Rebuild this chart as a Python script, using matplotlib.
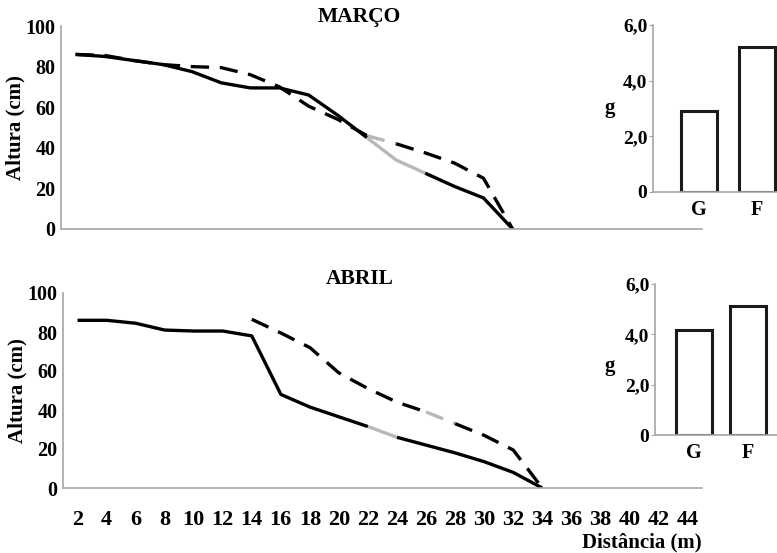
import numpy as np
import matplotlib
matplotlib.use("Agg")
import matplotlib.pyplot as plt

# ---------------- data ----------------
distancias = [2, 4, 6, 8, 10, 12, 14, 16, 18, 20, 22, 24, 26, 28, 30, 32, 34, 36, 38, 40, 42, 44]

# MARÇO (values per distance)
marco_solida = [86, 85, 83, 81, 77.5, 72, 69.5, 69.5, 66, 56, 45, 34, 27.5, 21, 15.3, 0]
marco_tracejada = [86, 85.5, 83, 81, 80, 79.5, 76, 70, 60.5, 54, 46, 42, 37.5, 32.5, 25, 0]
# ABRIL
abril_solida = [86, 86, 84.5, 81, 80.5, 80.5, 78, 48, 41.5, 36.5, 31.5, 26, 22, 18, 13.5, 8, 0]
abril_tracejada_inicio = 14
abril_tracejada = [86.5, 79.5, 72, 59, 51, 44, 39, 33, 27, 19.5, 0]

# light-grey stretches of the lines (start distance, end distance)
marco_sol_cinza = (22, 26)
marco_tra_cinza = (22, 24)
abril_sol_cinza = (22, 24)
abril_tra_cinza = (26, 28)

bar_cats = ["G", "F"]
marco_barras = [2.9, 5.2]
abril_barras = [4.17, 5.12]

y_ticks_linha = [0, 20, 40, 60, 80, 100]
y_ticks_barra = [0, 2, 4, 6]
y_ticklabels_barra = ["0", "2,0", "4,0", "6,0"]

# ---------------- style ----------------
plt.rcParams['font.family'] = ['Liberation Serif', 'DejaVu Serif']
plt.rcParams['font.weight'] = 'bold'
SPINE = '#a6a6a6'
GREY = '#b8b8b8'
LW = 2.4
DASH = (0, (5.5, 3.2))

W, H = 777, 553
fig = plt.figure(figsize=(W / 100, H / 100), dpi=100)


def ax_px(left, right, top, bottom):
    return fig.add_axes([left / W, 1 - bottom / H, (right - left) / W, (bottom - top) / H])


def plot_series(ax, start_dist, values, grey, ls):
    d = [start_dist + 2 * i for i in range(len(values))]
    x = np.array([distancias.index(v) for v in d])
    y = np.array(values, dtype=float)
    g0, g1 = grey
    pieces = [
        (lambda dd: dd <= g0, 'black'),
        (lambda dd: g0 <= dd <= g1, GREY),
        (lambda dd: dd >= g1, 'black'),
    ]
    for cond, col in pieces:
        m = np.array([cond(v) for v in d])
        if m.sum() >= 2:
            ax.plot(x[m], y[m], color=col, lw=LW, linestyle=ls,
                    solid_capstyle='butt', dash_capstyle='butt', solid_joinstyle='round')


def style_line_ax(ax, show_x):
    ax.set_xlim(-0.5, len(distancias) - 0.5)
    ax.set_ylim(0, 100)
    for s in ['top', 'right']:
        ax.spines[s].set_visible(False)
    for s in ['left', 'bottom']:
        ax.spines[s].set_color(SPINE)
        ax.spines[s].set_linewidth(1.2)
    ax.set_yticks(y_ticks_linha)
    ax.set_yticklabels([str(v) for v in y_ticks_linha], fontsize=14.5, fontweight='bold')
    ax.tick_params(axis='y', length=0, pad=4)
    ax.set_xticks(range(len(distancias)))
    if show_x:
        ax.set_xticklabels([str(v) for v in distancias], fontsize=16, fontweight='bold')
    else:
        ax.set_xticklabels([])
    ax.tick_params(axis='x', length=0, pad=16)
    ax.set_ylabel('Altura (cm)', fontsize=15, fontweight='bold', labelpad=0)


def style_bar_ax(ax, xlim, label_xy):
    ax.set_xlim(*xlim)
    ax.set_ylim(0, 6)
    for s in ['top', 'right']:
        ax.spines[s].set_visible(False)
    for s in ['left', 'bottom']:
        ax.spines[s].set_color(SPINE)
        ax.spines[s].set_linewidth(1.2)
    ax.set_yticks(y_ticks_barra)
    ax.set_yticklabels(y_ticklabels_barra, fontsize=14, fontweight='bold')
    ax.tick_params(axis='y', length=3, color=SPINE, pad=1)
    ax.set_xticks(range(len(bar_cats)))
    ax.set_xticklabels(bar_cats, fontsize=14.5, fontweight='bold')
    ax.tick_params(axis='x', length=0, pad=6)
    ax.set_ylabel('g', fontsize=15, fontweight='bold', rotation=0, ha='center', va='center')
    ax.yaxis.set_label_coords(*label_xy)


# ---- MARÇO line chart ----
ax1 = ax_px(61, 702, 26, 229)
plot_series(ax1, 2, marco_tracejada, marco_tra_cinza, DASH)
plot_series(ax1, 2, marco_solida, marco_sol_cinza, '-')
style_line_ax(ax1, False)
fig.text(359 / W, 1 - 17 / H, 'MARÇO', ha='center', va='center', fontsize=15.5, fontweight='bold')

# ---- ABRIL line chart ----
ax2 = ax_px(63, 702, 293, 488)
plot_series(ax2, abril_tracejada_inicio, abril_tracejada, abril_tra_cinza, DASH)
plot_series(ax2, 2, abril_solida, abril_sol_cinza, '-')
style_line_ax(ax2, True)
fig.text(360 / W, 1 - 279 / H, 'ABRIL', ha='center', va='center', fontsize=15.5, fontweight='bold')
fig.text(702 / W, 1 - 542 / H, 'Distância (m)', ha='right', va='center', fontsize=15, fontweight='bold')

# ---- MARÇO bars ----
ax3 = ax_px(653, 777, 25, 192)
ax3.bar(range(len(bar_cats)), marco_barras, width=0.62, facecolor='white',
        edgecolor='#1a1a1a', linewidth=2.2)
style_bar_ax(ax3, (-0.79, 1.345), (-0.347, 0.50))

# ---- ABRIL bars ----
ax4 = ax_px(655, 777, 284, 435)
ax4.bar(range(len(bar_cats)), abril_barras, width=0.67, facecolor='white',
        edgecolor='#1a1a1a', linewidth=2.2)
style_bar_ax(ax4, (-0.72, 1.54), (-0.369, 0.46))

fig.savefig('out.png', dpi=100)
